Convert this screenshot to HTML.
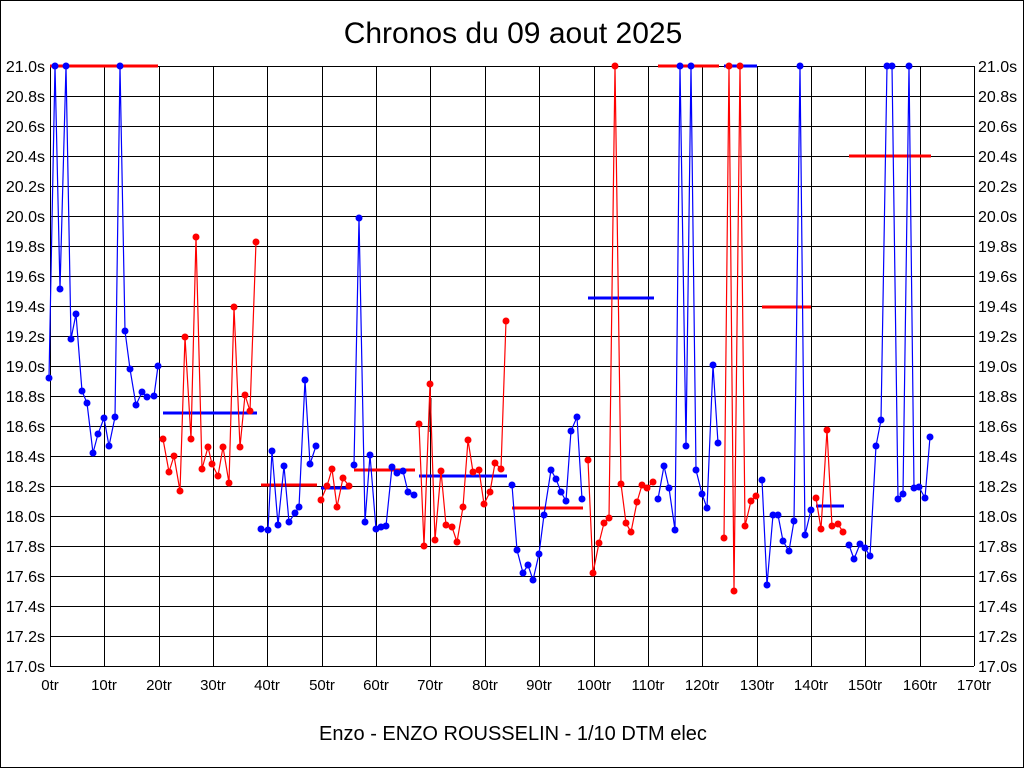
<!DOCTYPE html>
<html><head><meta charset="utf-8"><style>
html,body{margin:0;padding:0;background:#fff}
svg{display:block}
text{font-family:"Liberation Sans",sans-serif;fill:#000}
</style></head><body>
<svg id="s" width="1024" height="768" viewBox="0 0 1024 768" xmlns="http://www.w3.org/2000/svg">
<rect x="0.5" y="0.5" width="1023" height="767" fill="#fff" stroke="#000"/>
<text x="513" y="43" font-size="30" text-anchor="middle">Chronos du 09 aout 2025</text>
<text x="513" y="740" font-size="20" text-anchor="middle">Enzo - ENZO ROUSSELIN - 1/10 DTM elec</text>
<g id="grid" stroke="#000" stroke-width="1"></g>
<g font-size="16" text-anchor="end">
<text x="45" y="72">21.0s</text><text x="45" y="102">20.8s</text><text x="45" y="132">20.6s</text><text x="45" y="162">20.4s</text><text x="45" y="192">20.2s</text><text x="45" y="222">20.0s</text><text x="45" y="252">19.8s</text><text x="45" y="282">19.6s</text><text x="45" y="312">19.4s</text><text x="45" y="342">19.2s</text><text x="45" y="372">19.0s</text><text x="45" y="402">18.8s</text><text x="45" y="432">18.6s</text><text x="45" y="462">18.4s</text><text x="45" y="492">18.2s</text><text x="45" y="522">18.0s</text><text x="45" y="552">17.8s</text><text x="45" y="582">17.6s</text><text x="45" y="612">17.4s</text><text x="45" y="642">17.2s</text><text x="45" y="672">17.0s</text>
</g>
<g font-size="16" text-anchor="start">
<text x="978" y="72">21.0s</text><text x="978" y="102">20.8s</text><text x="978" y="132">20.6s</text><text x="978" y="162">20.4s</text><text x="978" y="192">20.2s</text><text x="978" y="222">20.0s</text><text x="978" y="252">19.8s</text><text x="978" y="282">19.6s</text><text x="978" y="312">19.4s</text><text x="978" y="342">19.2s</text><text x="978" y="372">19.0s</text><text x="978" y="402">18.8s</text><text x="978" y="432">18.6s</text><text x="978" y="462">18.4s</text><text x="978" y="492">18.2s</text><text x="978" y="522">18.0s</text><text x="978" y="552">17.8s</text><text x="978" y="582">17.6s</text><text x="978" y="612">17.4s</text><text x="978" y="642">17.2s</text><text x="978" y="672">17.0s</text>
</g>
<g font-size="15" text-anchor="middle">
<text x="50" y="690">0tr</text><text x="104" y="690">10tr</text><text x="159" y="690">20tr</text><text x="213" y="690">30tr</text><text x="267" y="690">40tr</text><text x="322" y="690">50tr</text><text x="376" y="690">60tr</text><text x="430" y="690">70tr</text><text x="485" y="690">80tr</text><text x="539" y="690">90tr</text><text x="594" y="690">100tr</text><text x="648" y="690">110tr</text><text x="702" y="690">120tr</text><text x="757" y="690">130tr</text><text x="811" y="690">140tr</text><text x="865" y="690">150tr</text><text x="920" y="690">160tr</text><text x="974" y="690">170tr</text>
</g>
<g id="avg" stroke-width="3"></g>
<g id="ser"></g>
</svg>
<script>
var NS="http://www.w3.org/2000/svg";
function el(p,t,a){var e=document.createElementNS(NS,t);for(var k in a)e.setAttribute(k,a[k]);p.appendChild(e);return e;}
var g=document.getElementById('grid');
for(var i=0;i<=20;i++){var y=66+i*30;el(g,'line',{x1:50,x2:974,y1:y+.5,y2:y+.5});}
for(var i=0;i<=17;i++){var x=Math.round(50+i*924/17);el(g,'line',{x1:x+.5,x2:x+.5,y1:66,y2:666});}
var B='#0000ff',R='#ff0000';
var segs=[
[B,[[49,378],[55,66],[60,289],[66,66],[71,339],[76,314],[82,391],[87,403],[93,453],[98,434],[104,418],[109,446],[115,417],[120,66],[125,331],[130,369],[136,405],[142,392],[147,397],[154,396],[158,366]]],
[R,[[163,439],[169,472],[174,456],[180,491],[185,337],[191,439],[196,237],[202,469],[208,447],[212,464],[218,476],[223,447],[229,483],[234,307],[240,447],[245,395],[250,411],[256,242]]],
[B,[[261,529],[268,530],[272,451],[278,525],[284,466],[289,522],[295,513],[299,507],[305,380],[310,464],[316,446]]],
[R,[[321,500],[327,486],[332,469],[337,507],[343,478],[349,486]]],
[B,[[354,465],[359,218],[365,522],[370,455],[376,529],[381,527],[386,526],[392,467],[397,473],[403,471],[408,492],[414,495]]],
[R,[[419,424],[424,546],[430,384],[435,540],[441,471],[446,525],[452,527],[457,542],[463,507],[468,440],[473,472],[479,470],[484,504],[490,492],[495,463],[501,469],[506,321]]],
[B,[[512,485],[517,550],[523,573],[528,565],[533,580],[539,554],[544,515],[551,470],[556,479],[561,492],[566,501],[571,431],[577,417],[582,499]]],
[R,[[588,460],[593,573],[599,543],[604,523],[609,518],[615,66],[621,484],[626,523],[631,532],[637,502],[642,485],[647,488],[653,482]]],
[B,[[658,499],[664,466],[669,488],[675,530],[680,66],[686,446],[691,66],[696,470],[702,494],[707,508],[713,365],[718,443]]],
[R,[[724,538],[729,66],[734,591],[740,66],[745,526],[751,501],[756,496]]],
[B,[[762,480],[767,585],[773,515],[778,515],[783,541],[789,551],[794,521],[800,66],[805,535],[811,510]]],
[R,[[816,498],[821,529],[827,430],[832,526],[838,524],[843,532]]],
[B,[[849,545],[854,559],[860,544],[865,548],[870,556],[876,446],[881,420],[887,66],[892,66],[898,499],[903,494],[909,66],[914,488],[919,487],[925,498],[930,437]]]
];
var avgs=[[R,50,158,66],[B,163,257,413],[R,261,317,485],[B,321,349,488],[R,354,415,470],[B,419,507,476],[R,512,583,508],[B,588,654,298],[R,658,719,66],[B,724,757,66],[R,762,811,307],[B,816,844,506],[R,849,931,156]];
var a=document.getElementById('avg');
avgs.forEach(function(v){el(a,'line',{x1:v[1],x2:v[2],y1:v[3],y2:v[3],stroke:v[0]});});
var s=document.getElementById('ser');
el(s,'line',{x1:430.5,x2:430.5,y1:398,y2:432,stroke:'#000','stroke-width':2});
segs.forEach(function(sg){
 var pts=sg[1].map(function(p){return p.join(',');}).join(' ');
 el(s,'polyline',{points:pts,fill:'none',stroke:sg[0],'stroke-width':1.2});
 sg[1].forEach(function(p){el(s,'circle',{cx:p[0],cy:p[1],r:3.5,fill:sg[0]});});
});
</script>
</body></html>
